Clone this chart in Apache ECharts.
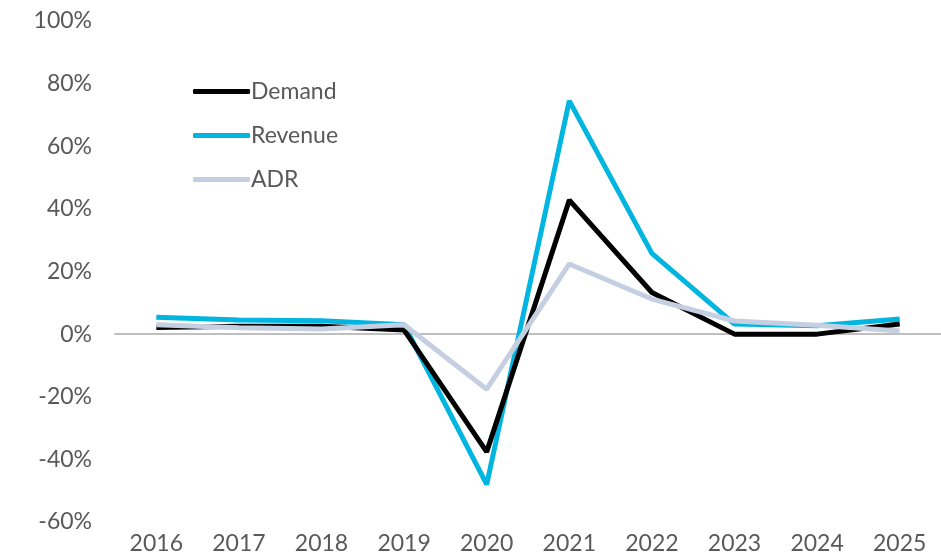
<!DOCTYPE html>
<html><head><meta charset="utf-8">
<script src="https://cdn.jsdelivr.net/npm/echarts@6/dist/echarts.min.js"></script>
<style>html,body{margin:0;padding:0;background:#fff}#c{width:941px;height:560px}</style>
</head><body><div id="c"></div>
<script>
const years = ['2016','2017','2018','2019','2020','2021','2022','2023','2024','2025'];
const demand = [2.1, 2.5, 2.5, 1.3, -37.6, 42.8, 13.3, 0, 0, 3.2];
const revenue = [5.4, 4.5, 4.3, 3.0, -48.0, 74.5, 25.8, 3.2, 2.7, 4.8];
const adr = [3.0, 2.0, 1.6, 3.0, -17.6, 22.4, 11.2, 4.2, 2.8, 1.0];
const yTicks = {min: -60, max: 100, interval: 20};

const chart = echarts.init(document.getElementById('c'));
const font = 'Lato';
chart.setOption({
  animation: false,
  grid: {left: 115, right: -12, top: 21, bottom: 38, containLabel: false},
  legend: {
    orient: 'vertical', left: 193, top: 80, padding: 0,
    itemWidth: 57, itemHeight: 5, itemGap: 21, icon: 'roundRect',
    textStyle: {fontFamily: font, fontSize: 23, color: '#595959', padding: [0,0,0,-4]},
    data: ['Demand','Revenue','ADR']
  },
  xAxis: {
    type: 'category', data: years, boundaryGap: true,
    axisLine: {onZero: true, lineStyle: {color: '#bfbfbf', width: 2}},
    axisTick: {show: false},
    axisLabel: {fontFamily: font, fontSize: 23, color: '#595959', margin: 10, interval: 0}
  },
  yAxis: {
    type: 'value', min: yTicks.min, max: yTicks.max, interval: yTicks.interval,
    splitLine: {show: false}, axisLine: {show: false}, axisTick: {show: false},
    axisLabel: {fontFamily: font, fontSize: 23, color: '#595959', margin: 23, formatter: v => v + '%'}
  },
  series: [
    {name: 'Demand', type: 'line', data: demand, symbol: 'none', lineStyle: {color: '#000000', width: 5}, itemStyle: {color: '#000000'}, z: 3},
    {name: 'Revenue', type: 'line', data: revenue, symbol: 'none', lineStyle: {color: '#00b5df', width: 5}, itemStyle: {color: '#00b5df'}, z: 2},
    {name: 'ADR', type: 'line', data: adr, symbol: 'none', lineStyle: {color: '#c5cfe2', width: 5}, itemStyle: {color: '#c5cfe2'}, z: 4}
  ]
});
</script></body></html>
